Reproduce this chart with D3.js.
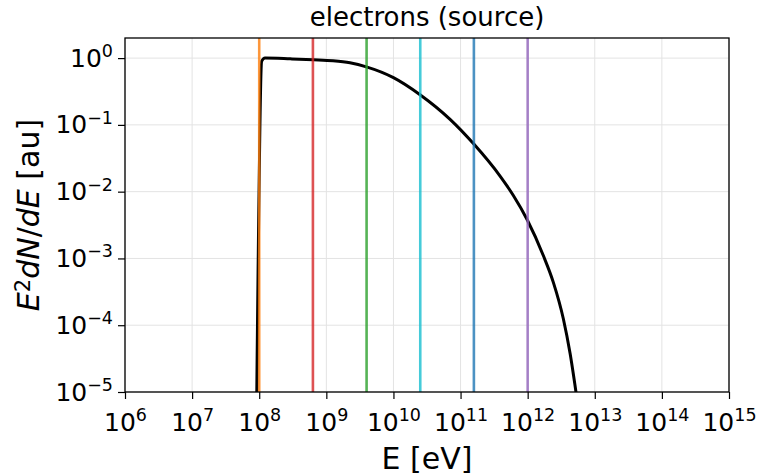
<!DOCTYPE html>
<html>
<head>
<meta charset="utf-8">
<script src="https://cdn.jsdelivr.net/npm/d3@7"></script>
<style>
  html, body { margin: 0; padding: 0; background: #fff; }
  svg { display: block; }
  text { font-family: "DejaVu Sans", sans-serif; fill: #000; }
</style>
</head>
<body>
<svg id="chart" width="759" height="476"></svg>
<script>
// ---- data ----
const energies = [9.2e7, 1.09e8, 1.22e8, 2.9e8, 6.4e8, 1.26e9, 2.25e9, 3.95e9, 1.0e10, 2.49e10, 6.98e10, 1.59e11, 3.88e11, 6.12e11, 9.8e11, 1.71e12, 2.42e12, 3.40e12, 4.29e12, 5.26e12];
const e2dnde   = [1e-5, 0.90, 1.0, 0.975, 0.945, 0.912, 0.85, 0.74, 0.51, 0.283, 0.121, 0.0511, 0.0171, 0.00877, 0.00383, 0.001106, 4.35e-4, 1.25e-4, 3.76e-5, 0.98e-5];
const markerEnergies = [1e8, 6.31e8, 3.98e9, 2.51e10, 1.58e11, 1e12];
const markerColors = ["#ff7f0e", "#d62728", "#2ca02c", "#17becf", "#1f77b4", "#9467bd"];
const xTickExps = [6, 7, 8, 9, 10, 11, 12, 13, 14, 15];
const yTickExps = [0, -1, -2, -3, -4, -5];
const titleText = "electrons (source)";

// ---- layout ----
const svg = d3.select("#chart");
const L = 125, R = 729, T = 38, B = 392;
const x = d3.scaleLog().domain([1e6, 1e15]).range([L, R]);
const y = d3.scaleLog().domain([1e-5, 2]).range([B, T]);

svg.append("defs").append("clipPath").attr("id", "clip")
  .append("rect").attr("x", L).attr("y", T).attr("width", R - L).attr("height", B - T);

// grid
const grid = svg.append("g");
xTickExps.forEach(e => {
  grid.append("line").attr("x1", x(Math.pow(10, e))).attr("x2", x(Math.pow(10, e)))
    .attr("y1", T).attr("y2", B).attr("stroke", "#e3e3e3").attr("stroke-width", 1);
});
yTickExps.forEach(e => {
  grid.append("line").attr("y1", y(Math.pow(10, e))).attr("y2", y(Math.pow(10, e)))
    .attr("x1", L).attr("x2", R).attr("stroke", "#e3e3e3").attr("stroke-width", 1);
});

// curve
const pts = energies.map((e, i) => [e, e2dnde[i]]);
const line = d3.line().x(d => x(d[0])).y(d => y(d[1])).curve(d3.curveMonotoneX);
svg.append("path").attr("clip-path", "url(#clip)")
  .datum(pts).attr("d", line)
  .attr("fill", "none").attr("stroke", "#000").attr("stroke-width", 3)
  .attr("stroke-linejoin", "round");

// vertical markers
svg.append("g").selectAll("line").data(markerEnergies).join("line")
  .attr("x1", d => x(d)).attr("x2", d => x(d))
  .attr("y1", T).attr("y2", B)
  .attr("stroke", (d, i) => markerColors[i]).attr("stroke-width", 2.6)
  .attr("stroke-opacity", 0.8);

// axes
const fmtSup = (sel, e) => {
  sel.text(null);
  sel.append("tspan").text("10");
  sel.append("tspan").attr("dy", "-0.55em").attr("font-size", "0.7em")
    .text(String(e).replace("-", "\u2212"));
};

const xAxis = d3.axisBottom(x).tickValues(xTickExps.map(e => Math.pow(10, e)))
  .tickSize(7).tickPadding(4).tickFormat(() => "");
const gx = svg.append("g").attr("transform", `translate(0,${B})`).call(xAxis);
gx.select(".domain").remove();
gx.selectAll(".tick line").attr("stroke", "#000").attr("stroke-width", 1.2);
gx.selectAll(".tick text").each(function(d) {
  const e = Math.round(Math.log10(d));
  const t = d3.select(this).attr("font-size", 25).attr("font-family", "DejaVu Sans")
    .attr("dy", null).attr("y", 39).attr("fill", "#000");
  fmtSup(t, e);
});

const yAxis = d3.axisLeft(y).tickValues(yTickExps.map(e => Math.pow(10, e)))
  .tickSize(7).tickPadding(6).tickFormat(() => "");
const gy = svg.append("g").attr("transform", `translate(${L},0)`).call(yAxis);
gy.select(".domain").remove();
gy.selectAll(".tick line").attr("stroke", "#000").attr("stroke-width", 1.2);
gy.selectAll(".tick text").each(function(d) {
  const e = Math.round(Math.log10(d));
  const t = d3.select(this).attr("font-size", 25).attr("font-family", "DejaVu Sans")
    .attr("dy", "0.32em").attr("x", -12).attr("fill", "#000");
  fmtSup(t, e);
});

// frame
svg.append("rect").attr("x", L).attr("y", T).attr("width", R - L).attr("height", B - T)
  .attr("fill", "none").attr("stroke", "#000").attr("stroke-width", 1.3);

// title
svg.append("text").attr("x", (L + R) / 2).attr("y", 26).attr("text-anchor", "middle")
  .attr("font-size", 26).text(titleText);

// x label
svg.append("text").attr("x", (L + R) / 2).attr("y", 469).attr("text-anchor", "middle")
  .attr("font-size", 30).text("E [eV]");

// y label
const yl = svg.append("text").attr("transform", `translate(39,${(T + B) / 2}) rotate(-90)`)
  .attr("text-anchor", "middle").attr("font-size", 30);
yl.append("tspan").attr("font-style", "italic").text("E");
yl.append("tspan").attr("dy", "-0.45em").attr("font-size", "0.7em").text("2");
yl.append("tspan").attr("dy", "0.315em").attr("font-style", "italic").text("dN");
yl.append("tspan").text("/");
yl.append("tspan").attr("font-style", "italic").text("dE");
yl.append("tspan").text(" [au]");
</script>
</body>
</html>
